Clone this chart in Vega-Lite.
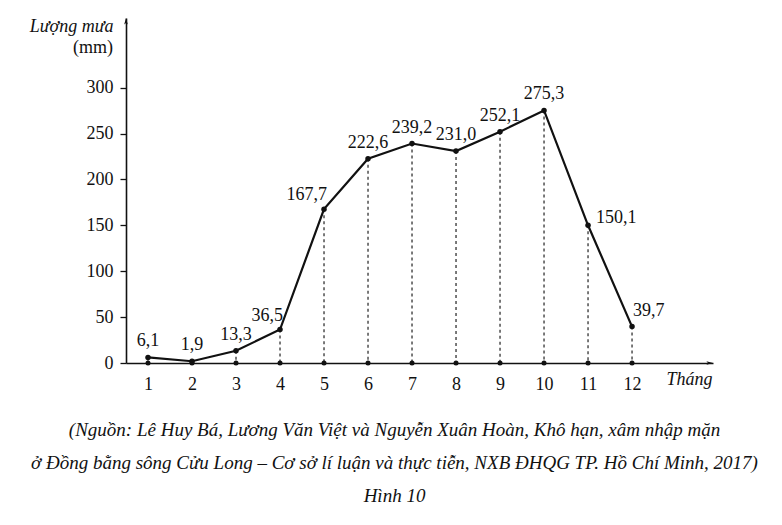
{
  "$schema": "https://vega.github.io/schema/vega-lite/v6.json",
  "width": 587,
  "height": 345,
  "autosize": "none",
  "padding": {"left": 126, "top": 18, "right": 69, "bottom": 162},
  "background": "white",
  "title": {
    "text": ["(Nguồn: Lê Huy Bá, Lương Văn Việt và Nguyễn Xuân Hoàn, Khô hạn, xâm nhập mặn", "ở Đồng bằng sông Cửu Long – Cơ sở lí luận và thực tiễn, NXB ĐHQG TP. Hồ Chí Minh, 2017)", "Hình 10"],
    "orient": "bottom",
    "anchor": "middle",
    "frame": "group",
    "dx": -25,
    "offset": 28,
    "font": "Liberation Serif, Times New Roman, serif",
    "fontStyle": "italic",
    "fontWeight": "normal",
    "fontSize": 19,
    "lineHeight": 33,
    "color": "#111"
  },
  "data": {
    "values": [
      {"month": 1, "rain": 6.1},
      {"month": 2, "rain": 1.9},
      {"month": 3, "rain": 13.3},
      {"month": 4, "rain": 36.5},
      {"month": 5, "rain": 167.7},
      {"month": 6, "rain": 222.6},
      {"month": 7, "rain": 239.2},
      {"month": 8, "rain": 231.0},
      {"month": 9, "rain": 252.1},
      {"month": 10, "rain": 275.3},
      {"month": 11, "rain": 150.1},
      {"month": 12, "rain": 39.7}
    ]
  },
  "encoding": {
    "x": {
      "field": "month",
      "type": "quantitative",
      "scale": {"domain": [0.5, 13.84], "nice": false, "zero": false},
      "axis": {
        "values": [1, 2, 3, 4, 5, 6, 7, 8, 9, 10, 11, 12],
        "ticks": false,
        "grid": false,
        "labelPadding": 12,
        "labelFontSize": 18,
        "labelFont": "Liberation Serif, Times New Roman, serif",
        "labelColor": "#111",
        "domainColor": "#111",
        "domainWidth": 1.6,
        "title": "Tháng",
        "titleFont": "Liberation Serif, Times New Roman, serif",
        "titleFontStyle": "italic",
        "titleFontWeight": "normal",
        "titleFontSize": 18,
        "titleColor": "#111",
        "titleAlign": "right",
        "titleBaseline": "alphabetic",
        "titleX": 586,
        "titleY": 21
      }
    },
    "y": {
      "field": "rain",
      "type": "quantitative",
      "scale": {"domain": [0, 376], "nice": false},
      "axis": {
        "values": [0, 50, 100, 150, 200, 250, 300],
        "grid": false,
        "tickSize": 6,
        "tickColor": "#111",
        "tickWidth": 1.3,
        "labelPadding": 7,
        "labelFontSize": 18,
        "labelFont": "Liberation Serif, Times New Roman, serif",
        "labelColor": "#111",
        "domainColor": "#111",
        "domainWidth": 1.6,
        "title": "Lượng mưa",
        "titleFont": "Liberation Serif, Times New Roman, serif",
        "titleFontStyle": "italic",
        "titleFontWeight": "normal",
        "titleFontSize": 18,
        "titleColor": "#111",
        "titleAngle": 0,
        "titleAlign": "right",
        "titleBaseline": "alphabetic",
        "titleX": -13,
        "titleY": 13
      }
    }
  },
  "layer": [
    {
      "mark": {"type": "rule", "strokeDash": [3, 3], "strokeWidth": 1.2, "color": "#222"},
      "encoding": {"y2": {"datum": 0}}
    },
    {
      "mark": {"type": "line", "color": "#111", "strokeWidth": 2.2}
    },
    {
      "mark": {"type": "point", "filled": true, "color": "#111", "size": 30, "opacity": 1}
    },
    {
      "mark": {"type": "point", "filled": true, "color": "#111", "size": 25, "opacity": 1},
      "encoding": {"y": {"datum": 0}}
    },
    {
      "transform": [{"filter": {"field": "month", "oneOf": [1, 2, 3, 6, 7, 8, 9, 10]}}],
      "mark": {"type": "text", "align": "center", "baseline": "alphabetic", "dy": -11, "fontSize": 18, "font": "Liberation Serif, Times New Roman, serif", "color": "#111"},
      "encoding": {"text": {"field": "rain", "type": "quantitative", "format": ".1f"}}
    },
    {
      "transform": [{"filter": {"field": "month", "oneOf": [4, 5]}}],
      "mark": {"type": "text", "align": "right", "baseline": "alphabetic", "dx": 3, "dy": -9, "fontSize": 18, "font": "Liberation Serif, Times New Roman, serif", "color": "#111"},
      "encoding": {"text": {"field": "rain", "type": "quantitative", "format": ".1f"}}
    },
    {
      "transform": [{"filter": {"field": "month", "equal": 11}}],
      "mark": {"type": "text", "align": "left", "baseline": "alphabetic", "dx": 8, "dy": -2, "fontSize": 18, "font": "Liberation Serif, Times New Roman, serif", "color": "#111"},
      "encoding": {"text": {"field": "rain", "type": "quantitative", "format": ".1f"}}
    },
    {
      "transform": [{"filter": {"field": "month", "equal": 12}}],
      "mark": {"type": "text", "align": "left", "baseline": "alphabetic", "dx": 1, "dy": -11, "fontSize": 18, "font": "Liberation Serif, Times New Roman, serif", "color": "#111"},
      "encoding": {"text": {"field": "rain", "type": "quantitative", "format": ".1f"}}
    },
    {
      "transform": [{"filter": {"field": "month", "equal": 1}}],
      "mark": {"type": "text", "align": "right", "baseline": "alphabetic", "dx": -13, "fontSize": 18, "font": "Liberation Serif, Times New Roman, serif", "color": "#111", "text": "(mm)"},
      "encoding": {
        "x": {"datum": 0.5},
        "y": {"datum": 338}
      }
    },
    {
      "transform": [{"filter": {"field": "month", "equal": 1}}],
      "mark": {"type": "point", "filled": true, "color": "#111", "size": 36, "opacity": 1, "shape": "M0,0L-0.6,2.2L0,1.7L0.6,2.2Z"},
      "encoding": {"x": {"datum": 0.5}, "y": {"datum": 376}}
    },
    {
      "transform": [{"filter": {"field": "month", "equal": 1}}],
      "mark": {"type": "point", "filled": true, "color": "#111", "size": 36, "opacity": 1, "shape": "M0,0L-2.2,-0.6L-1.7,0L-2.2,0.6Z"},
      "encoding": {"x": {"datum": 13.84}, "y": {"datum": 0}}
    }
  ],
  "config": {
    "font": "Liberation Serif, Times New Roman, serif",
    "view": {"stroke": null},
    "locale": {"number": {"decimal": ",", "thousands": ".", "grouping": [3], "currency": ["", " đ"]}}
  }
}
